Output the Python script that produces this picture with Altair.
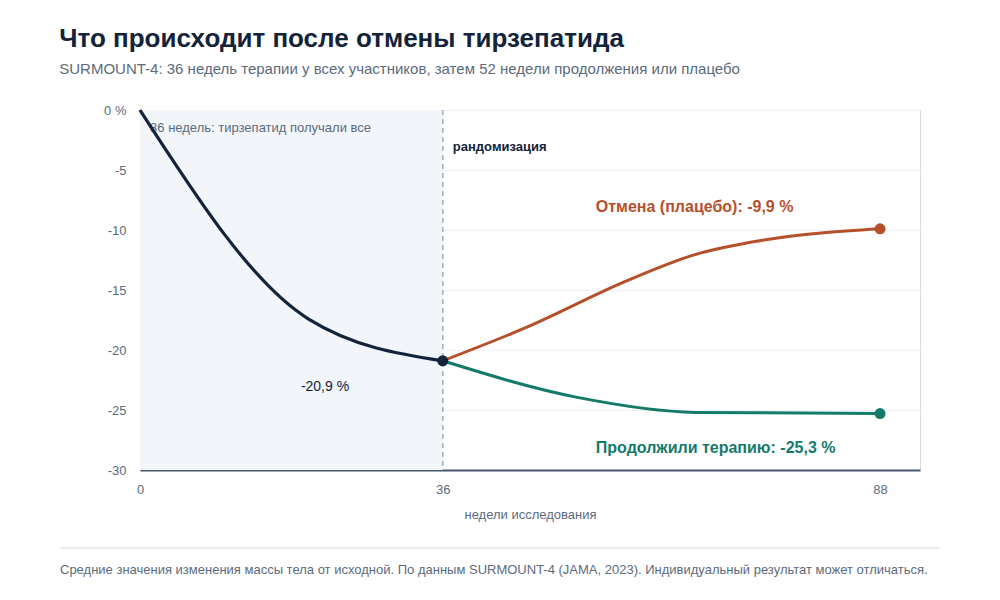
import altair as alt
import pandas as pd

# ---- data ----
lead_weeks = [0, 20, 36]
lead_values = [0.0, -17.4, -20.9]

placebo_weeks = [36, 46, 58, 66, 74, 88]
placebo_values = [-20.9, -18.1, -14.2, -12.05, -10.86, -9.9]

continued_weeks = [36, 52, 66, 88]
continued_values = [-20.9, -23.95, -25.2, -25.3]

y_ticks = [0, -5, -10, -15, -20, -25, -30]
x_ticks = [0, 36, 88]

DARK = "#13233a"
ORANGE = "#b5502b"
GREEN = "#147a69"
GRAY = "#5b6b7c"
FONT = "Liberation Sans"

lead_df = pd.DataFrame({"week": lead_weeks, "value": lead_values})
placebo_df = pd.DataFrame({"week": placebo_weeks, "value": placebo_values})
cont_df = pd.DataFrame({"week": continued_weeks, "value": continued_values})
shade_df = pd.DataFrame({"x0": [lead_weeks[0]], "x1": [lead_weeks[-1]], "y0": [y_ticks[-1]], "y1": [y_ticks[0]]})

xscale = alt.Scale(domain=[0, 92.75], nice=False, zero=False)
yscale = alt.Scale(domain=[-30, 0], nice=False)

x_axis = alt.Axis(
    values=x_ticks, title="недели исследования", grid=False, ticks=False,
    domainColor="#44576b", domainWidth=2, labelColor=GRAY, labelFontSize=13,
    labelFont=FONT, labelPadding=13, labelFlush=False, titleFont=FONT, titleFontSize=13,
    titleFontWeight="normal", titleColor=GRAY, titlePadding=12,
)
y_axis = alt.Axis(
    values=y_ticks, title=None, domain=False, ticks=False, grid=True,
    gridColor="#edf0f4", gridWidth=1, labelColor=GRAY, labelFontSize=13,
    labelFont=FONT, labelPadding=14, labelFlush=False,
    labelExpr="datum.value == 0 ? '0 %' : '' + datum.value",
)

shade = alt.Chart(shade_df).mark_rect(color="#f2f5f9").encode(
    x=alt.X("x0:Q", scale=xscale, axis=x_axis),
    x2="x1:Q",
    y=alt.Y("y0:Q", scale=yscale, axis=y_axis),
    y2="y1:Q",
)

phase_text = alt.Chart().mark_text(
    text="36 недель: тирзепатид получали все", align="left", baseline="middle",
    font=FONT, fontSize=13, color=GRAY,
).encode(x=alt.datum(1.2), y=alt.datum(-1.5))

rand_rule = alt.Chart().mark_rule(color="#9eadbb", strokeDash=[5, 4], strokeWidth=1.5).encode(
    x=alt.datum(36), y=alt.datum(0), y2=alt.datum(-30)
)

rand_text = alt.Chart().mark_text(
    text="рандомизация", align="left", baseline="middle",
    font=FONT, fontSize=13, fontWeight="bold", color=DARK,
).encode(x=alt.datum(37.2), y=alt.datum(-3.1))

line_placebo = alt.Chart(placebo_df).mark_line(color=ORANGE, strokeWidth=3, interpolate="monotone").encode(
    x="week:Q", y="value:Q")
line_cont = alt.Chart(cont_df).mark_line(color=GREEN, strokeWidth=3, interpolate="monotone").encode(
    x="week:Q", y="value:Q")
line_lead = alt.Chart(lead_df).mark_line(color=DARK, strokeWidth=3.2, interpolate="monotone").encode(
    x="week:Q", y="value:Q")

pt_placebo = alt.Chart(placebo_df.tail(1)).mark_circle(color=ORANGE, size=120, opacity=1).encode(
    x="week:Q", y="value:Q")
pt_cont = alt.Chart(cont_df.tail(1)).mark_circle(color=GREEN, size=120, opacity=1).encode(
    x="week:Q", y="value:Q")
pt_lead = alt.Chart(lead_df.tail(1)).mark_circle(color=DARK, size=120, opacity=1).encode(
    x="week:Q", y="value:Q")

lbl_placebo = alt.Chart().mark_text(
    text="Отмена (плацебо): -9,9 %", align="left", baseline="middle",
    font=FONT, fontSize=16, fontWeight="bold", color=ORANGE,
).encode(x=alt.datum(54.2), y=alt.datum(-8.1))
lbl_cont = alt.Chart().mark_text(
    text="Продолжили терапию: -25,3 %", align="left", baseline="middle",
    font=FONT, fontSize=16, fontWeight="bold", color=GREEN,
).encode(x=alt.datum(54.2), y=alt.datum(-28.15))
lbl_lead = alt.Chart().mark_text(
    text="-20,9 %", align="center", baseline="middle",
    font=FONT, fontSize=14, color=DARK,
).encode(x=alt.datum(22.0), y=alt.datum(-23.1))

footer_rule = alt.Chart().mark_rule(color="#e3e7ec", strokeWidth=1.5).encode(
    x=alt.value(-80), x2=alt.value(800), y=alt.value(438))
footer_text = alt.Chart().mark_text(
    text="Средние значения изменения массы тела от исходной. По данным SURMOUNT-4 (JAMA, 2023). Индивидуальный результат может отличаться.",
    align="left", baseline="middle", font=FONT, fontSize=13, color=GRAY,
).encode(x=alt.value(-80), y=alt.value(460))

chart = alt.layer(
    shade, phase_text, rand_rule, rand_text,
    line_placebo, line_cont, line_lead,
    pt_placebo, pt_cont, pt_lead,
    lbl_placebo, lbl_cont, lbl_lead,
    footer_rule, footer_text,
).properties(
    width=780, height=360,
    autosize=alt.AutoSizeParams(type="none"),
    padding={"left": 140, "top": 110, "right": 80, "bottom": 130},
    title=alt.TitleParams(
        text="Что происходит после отмены тирзепатида",
        subtitle="SURMOUNT-4: 36 недель терапии у всех участников, затем 52 недели продолжения или плацебо",
        anchor="start", dx=0, offset=27, font=FONT, fontSize=26, fontWeight="bold",
        color=DARK, subtitleFont=FONT, subtitleFontSize=15, subtitleColor=GRAY,
        subtitlePadding=10,
    ),
).configure_view(stroke=None).configure(background="white")

chart.save("out.html", embed_options={"renderer": "svg", "actions": False})
